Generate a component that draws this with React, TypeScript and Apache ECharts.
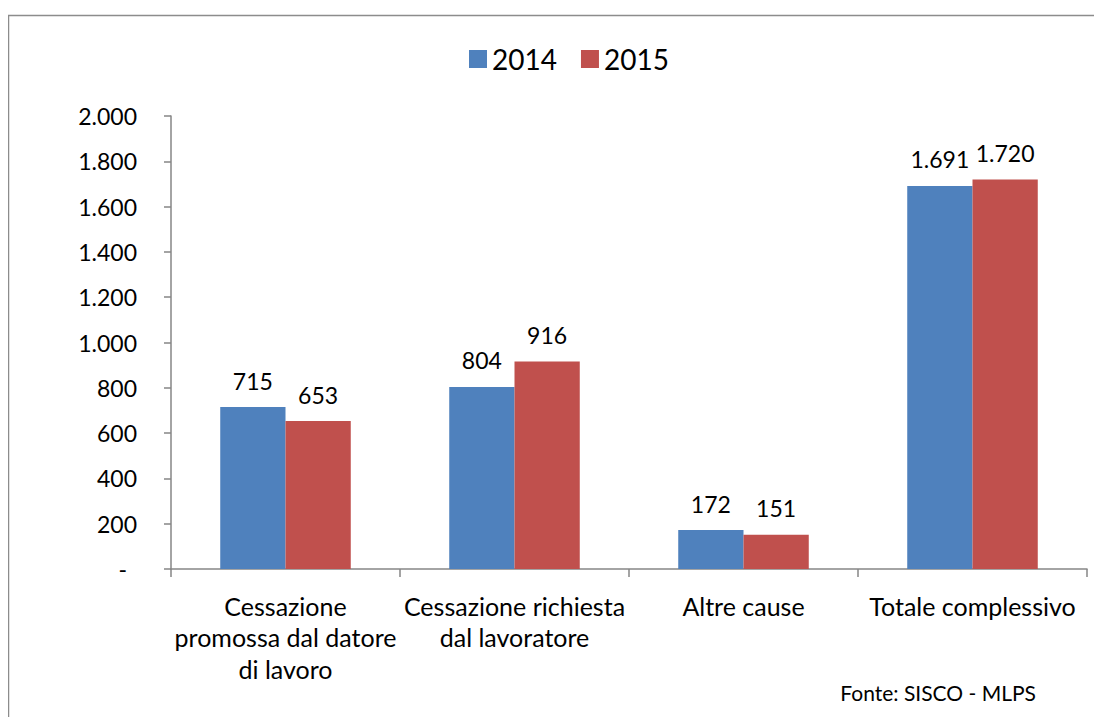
import React, { useEffect, useRef } from "react";
import * as echarts from "echarts";

const categories = [
  "Cessazione\npromossa dal datore\ndi lavoro",
  "Cessazione richiesta\ndal lavoratore",
  "Altre cause",
  "Totale complessivo",
];
const values2014 = [715, 804, 172, 1691];
const values2015 = [653, 916, 151, 1720];
const seriesNames = ["2014", "2015"];
const sourceNote = "Fonte: SISCO - MLPS";

const FONT = "Lato";

function fmt(v: number): string {
  if (v === 0) return "{d|-}";
  return String(v).replace(/\B(?=(\d{3})+(?!\d))/g, ".");
}

export default function App() {
  const ref = useRef<HTMLDivElement>(null);
  useEffect(() => {
    if (!ref.current) return;
    const chart = echarts.init(ref.current, undefined, { renderer: "svg" });
    const labelCfg = {
      show: true,
      position: "top" as const,
      distance: 15,
      color: "#000",
      fontFamily: FONT,
      fontSize: 23,
      formatter: (p: any) => fmt(p.value),
    };
    chart.setOption({
      animation: false,
      backgroundColor: "#fff",
      textStyle: { fontFamily: FONT },
      graphic: [
        {
          type: "rect",
          shape: { x: 8.5, y: 15.5, width: 1300, height: 900 },
          style: { fill: "none", stroke: "#8c8c8c", lineWidth: 1.5 },
          silent: true,
        },
        {
          type: "text",
          right: 66,
          top: 682,
          style: {
            text: sourceNote,
            fill: "#000",
            fontFamily: FONT,
            fontSize: 21,
          },
        },
      ],
      legend: {
        left: 464,
        top: 40,
        itemWidth: 18,
        itemHeight: 18,
        itemGap: 24,
        icon: "rect",
        textStyle: { fontFamily: FONT, fontSize: 28, color: "#000" },
        data: seriesNames,
      },
      grid: { left: 171, right: 15, top: 116, bottom: 156, containLabel: false },
      xAxis: {
        type: "category",
        data: categories,
        axisLine: { lineStyle: { color: "#868686", width: 1.5 } },
        axisTick: { show: true, length: 8, lineStyle: { color: "#868686", width: 1.5 } },
        axisLabel: {
          interval: 0,
          margin: 21,
          color: "#000",
          fontFamily: FONT,
          fontSize: 25,
          lineHeight: 31.5,
          align: "center",
        },
      },
      yAxis: {
        type: "value",
        min: 0,
        max: 2000,
        interval: 200,
        splitLine: { show: false },
        axisLine: { show: true, lineStyle: { color: "#868686", width: 1.5 } },
        axisTick: { show: true, length: 7, lineStyle: { color: "#868686", width: 1.5 } },
        axisLabel: {
          margin: 34,
          color: "#000",
          fontFamily: FONT,
          fontSize: 23,
          formatter: (v: number) => fmt(v),
          rich: { d: { fontFamily: FONT, fontSize: 23, color: "#000", padding: [0, 10, 0, 0] } },
        },
      },
      series: [
        {
          name: seriesNames[0],
          type: "bar",
          data: values2014,
          barGap: "0%",
          barCategoryGap: "43%",
          itemStyle: { color: "#4F81BD" },
          label: labelCfg,
        },
        {
          name: seriesNames[1],
          type: "bar",
          data: values2015,
          barGap: "0%",
          barCategoryGap: "43%",
          itemStyle: { color: "#C0504D" },
          label: labelCfg,
        },
      ],
    });
    return () => chart.dispose();
  }, []);
  return <div ref={ref} style={{ width: 1102, height: 725, margin: -8 }} />;
}
